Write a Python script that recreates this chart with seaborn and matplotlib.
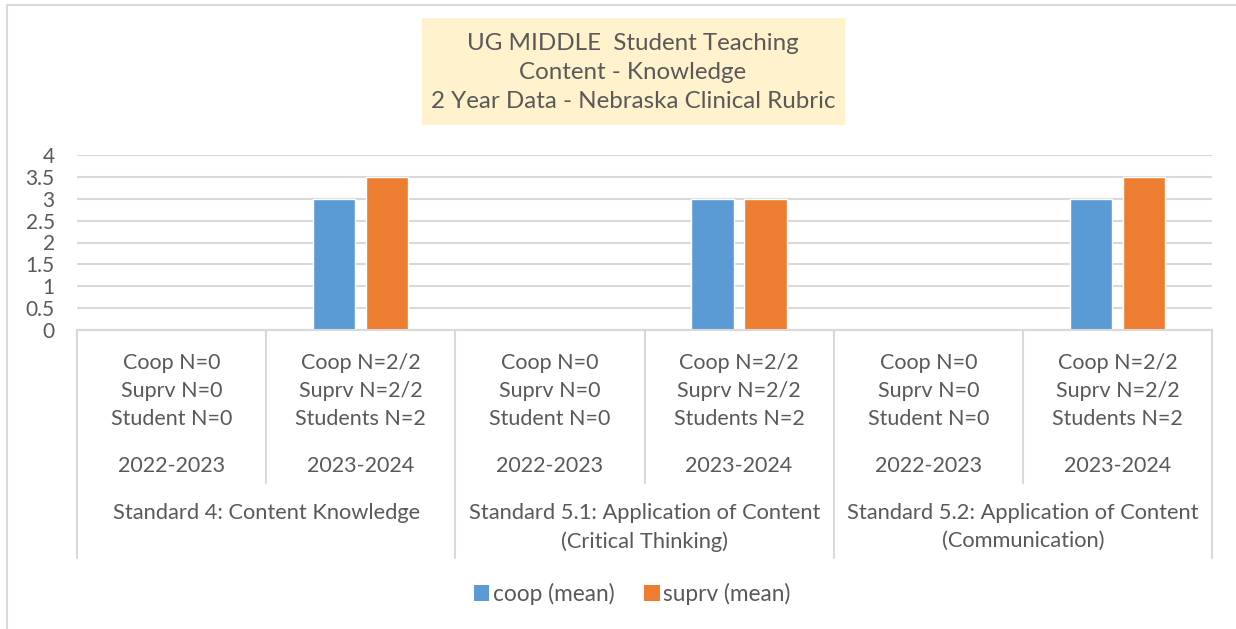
import numpy as np
import pandas as pd
import matplotlib.pyplot as plt
import seaborn as sns
from matplotlib.patches import Rectangle, Patch
from matplotlib.lines import Line2D

# data
standards = ['Standard 4: Content Knowledge',
             'Standard 5.1: Application of Content\n(Critical Thinking)',
             'Standard 5.2: Application of Content\n(Communication)']
years = ['2022-2023', '2023-2024']
n_labels = ['Coop N=0\nSuprv N=0\nStudent N=0',
            'Coop N=2/2\nSuprv N=2/2\nStudents N=2']
coop_mean = [np.nan, 3, np.nan, 3, np.nan, 3]
suprv_mean = [np.nan, 3.5, np.nan, 3, np.nan, 3.5]
series = ['coop (mean)', 'suprv (mean)']
colors = ['#5B9BD5', '#ED7D31']

cats = [f'{s}|{y}' for s in standards for y in years]
df = pd.DataFrame({
    'cat': cats * 2,
    'series': [series[0]] * 6 + [series[1]] * 6,
    'value': coop_mean + suprv_mean,
})

sns.set_style('white')
plt.rcParams['font.family'] = ['Lato', 'DejaVu Sans']
txt = '#595959'
grid = '#D9D9D9'

W, H = 1236, 629
fig = plt.figure(figsize=(W / 100, H / 100), dpi=100)
ax_l, ax_r, ax_t, ax_b = 77, 1212, 155, 330
ax = fig.add_axes([ax_l / W, 1 - ax_b / H, (ax_r - ax_l) / W, (ax_b - ax_t) / H])

sns.barplot(data=df, x='cat', y='value', hue='series', order=cats,
            palette=colors, width=0.56, gap=0.2, ax=ax, legend=False,
            saturation=1, errorbar=None)

ax.set_ylim(0, 4)
ax.set_xlim(-0.5, len(cats) - 0.5)
ax.set_yticks(np.arange(0, 4.01, 0.5))
ax.set_yticklabels(['0', '0.5', '1', '1.5', '2', '2.5', '3', '3.5', '4'])
ax.tick_params(axis='y', length=0, pad=16, labelsize=15, labelcolor=txt)
ax.set_xticks([])
ax.set_xlabel('')
ax.set_ylabel('')
ax.yaxis.grid(True, color=grid, lw=1.5)
ax.set_axisbelow(True)
for s in ['top', 'left', 'right']:
    ax.spines[s].set_visible(False)
ax.spines['bottom'].set_color(grid)
ax.spines['bottom'].set_linewidth(1.5)

tr = ax.get_xaxis_transform()
hpx = ax_b - ax_t


def fy(py):
    return (ax_b - py) / hpx


# category labels
for i, c in enumerate(cats):
    ax.text(i, fy(391), n_labels[i % 2], transform=tr, ha='center', va='center',
            fontsize=15.5, color=txt, linespacing=1.49)
    ax.text(i, fy(466), years[i % 2], transform=tr, ha='center', va='center',
            fontsize=15.5, color=txt)
for j, s in enumerate(standards):
    ax.text(2 * j + 0.5, fy(503), s, transform=tr, ha='center', va='top',
            fontsize=15.75, color=txt, linespacing=1.5)

# separators
for j in range(len(standards)):
    ax.add_line(Line2D([2 * j + 0.5] * 2, [0, fy(483)], transform=tr,
                       color=grid, lw=1.5, clip_on=False))
for j in range(len(standards) + 1):
    ax.add_line(Line2D([2 * j - 0.5] * 2, [0, fy(558)], transform=tr,
                       color=grid, lw=1.5, clip_on=False))

# title box
fig.patches.append(Rectangle((422 / W, 1 - 125 / H), (845 - 422) / W, (125 - 18) / H,
                             transform=fig.transFigure, facecolor='#FFF2CC',
                             edgecolor='none', zorder=0))
fig.text(633 / W, 1 - 72.5 / H,
         'UG MIDDLE  Student Teaching\nContent - Knowledge\n2 Year Data - Nebraska Clinical Rubric',
         ha='center', va='center', fontsize=17.4, color=txt, linespacing=1.48)

# outer border (top and left visible)
fig.add_artist(Line2D([7 / W, 1], [1 - 5 / H] * 2, transform=fig.transFigure,
                      color=grid, lw=1.5))
fig.add_artist(Line2D([7 / W] * 2, [0, 1 - 5 / H], transform=fig.transFigure,
                      color=grid, lw=1.5))

handles = [Patch(facecolor=c, edgecolor='none') for c in colors]
fig.legend(handles, series, loc='center', bbox_to_anchor=(632 / W, 1 - 594 / H),
           ncol=2, frameon=False, fontsize=16.3, labelcolor=txt,
           handlelength=0.7, handleheight=0.7, handletextpad=0.15, columnspacing=1.3)

fig.savefig('out.png', dpi=100)
